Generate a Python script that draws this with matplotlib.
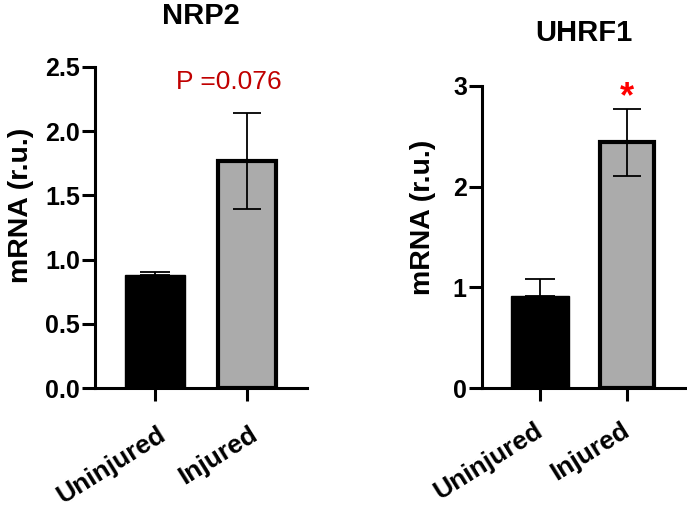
import matplotlib
matplotlib.use("Agg")
import matplotlib.pyplot as plt
from matplotlib.transforms import ScaledTranslation

plt.rcParams['font.family'] = ['Liberation Sans', 'DejaVu Sans']

categories = ["Uninjured", "Injured"]
nrp2_means = [0.88, 1.77]
nrp2_errs = [0.025, 0.375]
uhrf1_means = [0.91, 2.44]
uhrf1_errs = [0.17, 0.33]
nrp2_yticks = [0.0, 0.5, 1.0, 1.5, 2.0, 2.5]
nrp2_yticklabels = ["0.0", "0.5", "1.0", "1.5", "2.0", "2.5"]
uhrf1_yticks = [0, 1, 2, 3]
uhrf1_yticklabels = ["0", "1", "2", "3"]

fig = plt.figure(figsize=(6.87, 5.08), dpi=100)


def panel(rect, means, errs, yticks, yticklabels, ylim, xlim, title, title_y,
          ylabel_x, ylabel_y, xlab_dx, xlab_pad):
    ax = fig.add_axes(rect)
    x = list(range(len(categories)))
    ax.bar(x[0], means[0], width=0.66, color="black", edgecolor="black", linewidth=1.0, zorder=2)
    ax.bar(x[1], means[1], width=0.62, color="#ababab", edgecolor="black", linewidth=3.0, zorder=2)
    ax.errorbar(x[0], means[0], yerr=[[0], [errs[0]]], fmt="none", ecolor="black",
                elinewidth=1.3, capsize=11, capthick=1.3, zorder=3)
    ax.errorbar(x[1], means[1], yerr=errs[1], fmt="none", ecolor="black",
                elinewidth=1.3, capsize=10, capthick=1.3, zorder=3)
    ax.set_xlim(*xlim)
    ax.set_ylim(*ylim)
    ax.set_yticks(yticks)
    ax.set_yticklabels(yticklabels, fontsize=18, fontweight="bold")
    ax.set_xticks(x)
    ax.set_xticklabels(categories, fontsize=19, fontweight="bold", rotation=32,
                       ha="right", va="baseline", rotation_mode="anchor")
    for s in ["top", "right"]:
        ax.spines[s].set_visible(False)
    for s in ["left", "bottom"]:
        ax.spines[s].set_linewidth(2.2)
    ax.tick_params(axis="both", width=2.2, length=9.4)
    ax.tick_params(axis="y", pad=1.5)
    ax.tick_params(axis="x", pad=xlab_pad)
    off = ScaledTranslation(xlab_dx / 72, 0, fig.dpi_scale_trans)
    for lab in ax.get_xticklabels():
        lab.set_transform(lab.get_transform() + off)
    ax.set_ylabel("mRNA (r.u.)", fontsize=20.5, fontweight="bold")
    ax.yaxis.set_label_coords(ylabel_x, ylabel_y)
    fig.text(rect[0] + rect[2] * 0.5, title_y, title, fontsize=21, fontweight="bold",
             ha="center", va="center")
    return ax


ax1 = panel([95/687, 1 - 388/508, 212/687, 321/508], nrp2_means, nrp2_errs,
            nrp2_yticks, nrp2_yticklabels, (0, 2.5), (-0.652, 1.652), "NRP2", 1 - 16/508,
            -0.289, 0.570, 9.0, 27)
ax1.text(0.8, 2.38, "P =0.076", color="#c00000", fontsize=19, ha="center", va="center")

ax2 = panel([482/687, 1 - 388/508, 203/687, 302/508], uhrf1_means, uhrf1_errs,
            uhrf1_yticks, uhrf1_yticklabels, (0, 3), (-0.669, 1.672), "UHRF1", 1 - 33/508,
            -0.227, 0.565, 3.0, 24)
ax2.text(1.0, 2.88, "*", color="#ff0000", fontsize=26, fontweight="bold", ha="center", va="center")

fig.savefig("out.png", dpi=100)
